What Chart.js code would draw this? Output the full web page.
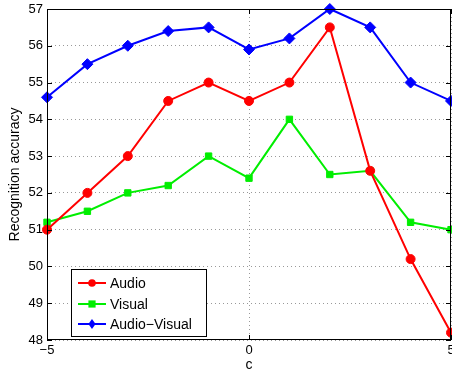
<!DOCTYPE html>
<html>
<head>
<meta charset="utf-8">
<script src="https://cdn.jsdelivr.net/npm/chart.js@4/dist/chart.umd.min.js"></script>
<style>
html,body{margin:0;padding:0;background:#fff;}
#wrap{width:452px;height:374px;position:relative;}
</style>
</head>
<body>
<div id="wrap"><canvas id="c" width="452" height="374"></canvas></div>
<script>
const cValues = [-5, -4, -3, -2, -1, 0, 1, 2, 3, 4, 5];
const audio = [51.0, 52.0, 53.0, 54.5, 55.0, 54.5, 55.0, 56.5, 52.6, 50.2, 48.2];
const visual = [51.2, 51.5, 52.0, 52.2, 53.0, 52.4, 54.0, 52.5, 52.6, 51.2, 51.0];
const audioVisual = [54.6, 55.5, 56.0, 56.4, 56.5, 55.9, 56.2, 57.0, 56.5, 55.0, 54.5];
const seriesLabels = ['Audio', 'Visual', 'Audio\u2212Visual'];
const xTitle = 'c';
const yTitle = 'Recognition accuracy';

const FONT = "'Liberation Sans', Arial, Helvetica, sans-serif";

function pts(vals){ return cValues.map((x,i)=>({x:x,y:vals[i]})); }

const frame = {
  id:'frame',
  afterDraw(chart){
    const ctx = chart.ctx, a = chart.chartArea;
    const xs = chart.scales.x, ys = chart.scales.y;
    ctx.save();
    ctx.strokeStyle = '#000'; ctx.lineWidth = 1;
    ctx.strokeRect(Math.round(a.left)+0.5, Math.round(a.top)+0.5, Math.round(a.right-a.left)-1, Math.round(a.bottom-a.top)-1);
    const L = 5;
    ctx.beginPath();
    ys.ticks.forEach(t=>{
      const y = Math.round(ys.getPixelForValue(t.value))+0.5;
      ctx.moveTo(a.left, y); ctx.lineTo(a.left+L, y);
      ctx.moveTo(a.right, y); ctx.lineTo(a.right-L, y);
    });
    xs.ticks.forEach(t=>{
      const x = Math.round(xs.getPixelForValue(t.value))+0.5;
      ctx.moveTo(x, a.bottom); ctx.lineTo(x, a.bottom-L);
      ctx.moveTo(x, a.top); ctx.lineTo(x, a.top+L);
    });
    ctx.stroke();

    // legend
    const bx = 71, by = 269, bw = 135, bh = 67;
    ctx.fillStyle = '#fff';
    ctx.fillRect(bx, by, bw, bh);
    ctx.strokeStyle = '#000';
    ctx.strokeRect(bx+0.5, by+0.5, bw, bh);
    const rowY = [283, 304, 324];
    chart.data.datasets.forEach((ds, i)=>{
      const y = rowY[i];
      ctx.strokeStyle = ds.borderColor; ctx.lineWidth = 2;
      ctx.beginPath(); ctx.moveTo(78, y); ctx.lineTo(106, y); ctx.stroke();
      ctx.fillStyle = ds.backgroundColor;
      ctx.strokeStyle = ds.borderColor; ctx.lineWidth = 1;
      ctx.beginPath();
      if (ds.pointStyle === 'circle') { ctx.arc(92, y, 3.8, 0, Math.PI*2); }
      else if (ds.pointStyle === 'rect') { const r = 3.6; ctx.rect(92-r, y-r, 2*r, 2*r); }
      else { const r = 4.5; ctx.moveTo(92, y-r*1.1); ctx.lineTo(92+r*0.8, y); ctx.lineTo(92, y+r*1.1); ctx.lineTo(92-r*0.8, y); ctx.closePath(); }
      ctx.fill();
      ctx.fillStyle = '#000';
      ctx.font = '14px ' + FONT;
      ctx.textAlign = 'left'; ctx.textBaseline = 'middle';
      ctx.fillText(ds.label, 110, y+1);
    });
    ctx.restore();
  }
};

new Chart(document.getElementById('c'), {
  type: 'line',
  data: {
    datasets: [
      {label: seriesLabels[0], data: pts(audio), borderColor:'#ff0000', backgroundColor:'#ff0000', borderWidth:2, pointStyle:'circle', pointRadius:4.5, pointBorderWidth:1, tension:0},
      {label: seriesLabels[1], data: pts(visual), borderColor:'#00ee00', backgroundColor:'#00ee00', borderWidth:2, pointStyle:'rect', pointRadius:4.5, pointBorderWidth:1, tension:0},
      {label: seriesLabels[2], data: pts(audioVisual), borderColor:'#0000ff', backgroundColor:'#0000ff', borderWidth:2, pointStyle:'rectRot', pointRadius:5.5, pointBorderWidth:1, tension:0}
    ]
  },
  options: {
    responsive: false,
    animation: false,
    devicePixelRatio: 1,
    clip: false,
    layout: {autoPadding: false, padding: {left: 7, right: 1, top: 9, bottom: 0}},
    plugins: {legend: {display: false}, tooltip: {enabled: false}},
    scales: {
      x: {
        type: 'linear', min: -5, max: 5,
        ticks: {stepSize: 5, color:'#000', font:{family: FONT, size: 13}, padding: 3, maxRotation:0,
                callback: v => (v < 0 ? '\u2212' + Math.abs(v) : String(v))},
        grid: {color:'#999', lineWidth:1, drawTicks:false},
        border: {display:false, dash:[1,3]},
        title: {display:true, text: xTitle, color:'#000', font:{family: FONT, size: 14}, padding:{top:1,bottom:0}},
        afterFit: s => { s.height = 34; s.paddingLeft = 0; s.paddingRight = 0; }
      },
      y: {
        min: 48, max: 57,
        ticks: {stepSize: 1, color:'#000', font:{family: FONT, size: 13}, padding: 4},
        grid: {color:'#999', lineWidth:1, drawTicks:false},
        border: {display:false, dash:[1,3]},
        title: {display:true, text: yTitle, color:'#000', font:{family: FONT, size: 14}, padding:{top:0,bottom:2}},
        afterFit: s => { s.width = 40; s.paddingTop = 0; s.paddingBottom = 0; }
      }
    }
  },
  plugins: [frame]
});
</script>
</body>
</html>
